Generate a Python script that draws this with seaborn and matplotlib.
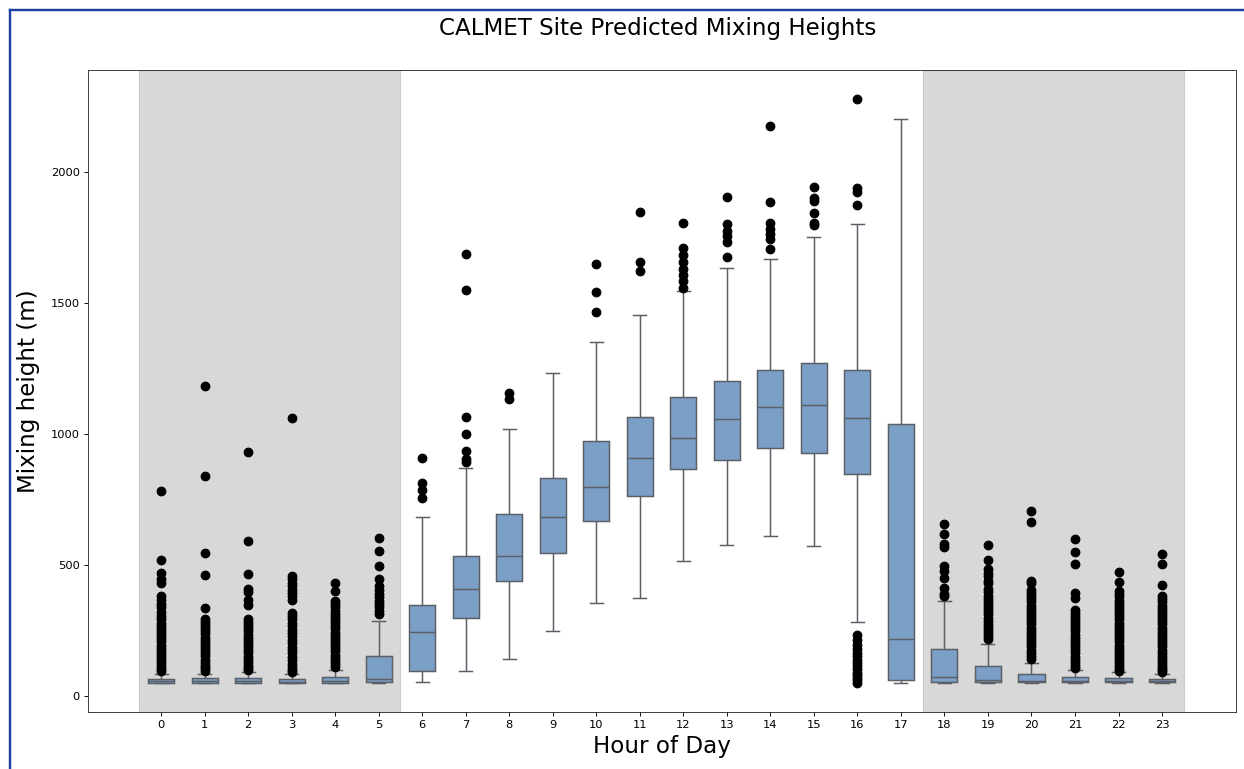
import numpy as np
import pandas as pd
import matplotlib
matplotlib.use("Agg")
import matplotlib.pyplot as plt
from matplotlib.lines import Line2D
import seaborn as sns

# ---------------- data ----------------
hours = list(range(24))
whisker_low = [50, 50, 50, 50, 50, 50, 52, 95, 142, 247, 353, 375, 515, 577, 612, 573, 281, 50, 50, 50, 50, 50, 50, 50]
q1 = [51, 51, 51, 51, 51, 52, 95, 298, 438, 544, 669, 763, 865, 901, 947, 926, 847, 59, 52, 53, 53, 52, 52, 52]
median = [56, 56, 56, 55, 56, 64, 244, 410, 536, 684, 799, 909, 985, 1057, 1102, 1112, 1060, 217, 71, 59, 58, 57, 56, 56]
q3 = [66, 67, 68, 64, 72, 153, 347, 534, 696, 832, 972, 1067, 1140, 1204, 1244, 1272, 1244, 1037, 180, 116, 85, 72, 68, 66]
whisker_high = [85, 82, 92, 82, 100, 287, 684, 870, 1021, 1234, 1350, 1453, 1547, 1635, 1668, 1751, 1804, 2203, 362, 197, 124, 99, 90, 85]
outliers = [
    [782, 518, 470, 445, 432, 381, 366, 352, 338, 322, 306, 292, 280, 268, 256, 244, 232, 220, 208, 196, 184, 172, 160, 148, 136, 124, 114, 104, 95],
    [1185, 841, 545, 460, 334, 295, 283, 271, 259, 247, 235, 223, 211, 199, 187, 175, 163, 151, 139, 127, 116, 105, 96],
    [932, 593, 467, 410, 395, 366, 348, 294, 282, 270, 258, 246, 234, 222, 210, 198, 186, 174, 162, 150, 138, 126, 115, 106, 98],
    [1063, 458, 445, 432, 419, 406, 393, 380, 367, 318, 305, 292, 279, 266, 253, 240, 227, 214, 201, 188, 175, 162, 149, 136, 123, 111, 100, 90],
    [432, 400, 362, 350, 338, 326, 314, 302, 290, 278, 266, 254, 242, 230, 218, 206, 194, 182, 170, 158, 146, 134, 122, 112],
    [604, 553, 498, 445, 419, 404, 390, 377, 364, 351, 338, 325, 313],
    [907, 814, 788, 757],
    [1688, 1549, 1066, 1002, 934, 903, 893],
    [1158, 1135],
    [],
    [1651, 1543, 1468],
    [1850, 1656, 1622],
    [1805, 1712, 1684, 1657, 1629, 1606, 1583, 1559],
    [1904, 1801, 1777, 1757, 1735, 1678],
    [2178, 1887, 1805, 1784, 1765, 1746, 1706],
    [1942, 1900, 1890, 1845, 1805, 1798],
    [2279, 1938, 1925, 1875, 231, 212, 193, 178, 165, 152, 139, 126, 114, 101, 89, 79, 69, 59, 50],
    [],
    [655, 620, 582, 567, 498, 477, 451, 413, 390, 381],
    [578, 519, 483, 470, 457, 438, 432, 407, 395, 383, 371, 359, 347, 335, 323, 311, 299, 287, 275, 263, 251, 239, 227, 216],
    [708, 664, 437, 430, 405, 393, 381, 369, 357, 345, 333, 321, 309, 297, 285, 273, 261, 249, 237, 225, 213, 201, 189, 177, 165, 153, 141],
    [601, 549, 505, 394, 375, 330, 318, 306, 294, 282, 270, 258, 246, 234, 222, 210, 198, 186, 174, 162, 150, 138, 127, 116, 107],
    [474, 435, 400, 388, 376, 364, 352, 340, 328, 316, 304, 292, 280, 268, 256, 244, 232, 220, 208, 196, 184, 172, 160, 148, 136, 124, 113, 103, 96],
    [543, 503, 422, 381, 369, 357, 345, 333, 321, 309, 297, 285, 273, 261, 249, 237, 225, 213, 201, 189, 177, 165, 153, 141, 129, 118, 108, 99, 92],
]
night_spans = [(-0.5, 5.5), (17.5, 23.5)]

# Build a sample whose quartiles / whiskers equal the values read above
n_rep = 400
rows = []
for i, h in enumerate(hours):
    vals = ([whisker_low[i]] + [q1[i]] * n_rep + [median[i]] * n_rep +
            [q3[i]] * n_rep + [whisker_high[i]] + outliers[i])
    rows.extend((h, v) for v in vals)
df = pd.DataFrame(rows, columns=["hour", "height"])

# ---------------- figure ----------------
DPI = 1244 / 15
W, H = 1244, 769
fig = plt.figure(figsize=(W / DPI, H / DPI), dpi=DPI)
ax = fig.add_axes([88 / W, 1 - 712 / H, 1148 / W, 642 / H])

for a, b in night_spans:
    ax.axvspan(a, b, color="gray", alpha=0.3, zorder=0)

sns.boxplot(data=df, x="hour", y="height", order=hours, width=0.6,
            color="#7c9fc7", saturation=1, fliersize=7.5, linewidth=1.3,
            linecolor="#5c6066",
            flierprops=dict(marker="o", markerfacecolor="black",
                            markeredgecolor="black", markeredgewidth=1),
            ax=ax)

ax.set_xlim(-1.68, 24.7)
ax.set_xlabel("Hour of Day", fontsize=20)
ax.set_ylabel("Mixing height (m)", fontsize=20)
ax.yaxis.set_label_coords(-0.042, 0.5)
ax.tick_params(labelsize=10)
ax.set_yticks([0, 500, 1000, 1500, 2000])
for s in ax.spines.values():
    s.set_color("#333333")
fig.text(658 / W, 1 - 29 / H, "CALMET Site Predicted Mixing Heights",
         ha="center", va="center", fontsize=20)

# blue frame visible in the reference (left and top edges)
bc = "#1a40a2"
fig.add_artist(Line2D([9.5 / W, 9.5 / W], [0, 1 - 9.5 / H], transform=fig.transFigure,
                      color=bc, lw=2.4 * 72 / DPI))
fig.add_artist(Line2D([9.5 / W, 1], [1 - 9.5 / H, 1 - 9.5 / H], transform=fig.transFigure,
                      color=bc, lw=2.4 * 72 / DPI))

fig.savefig("out.png", dpi=DPI)
